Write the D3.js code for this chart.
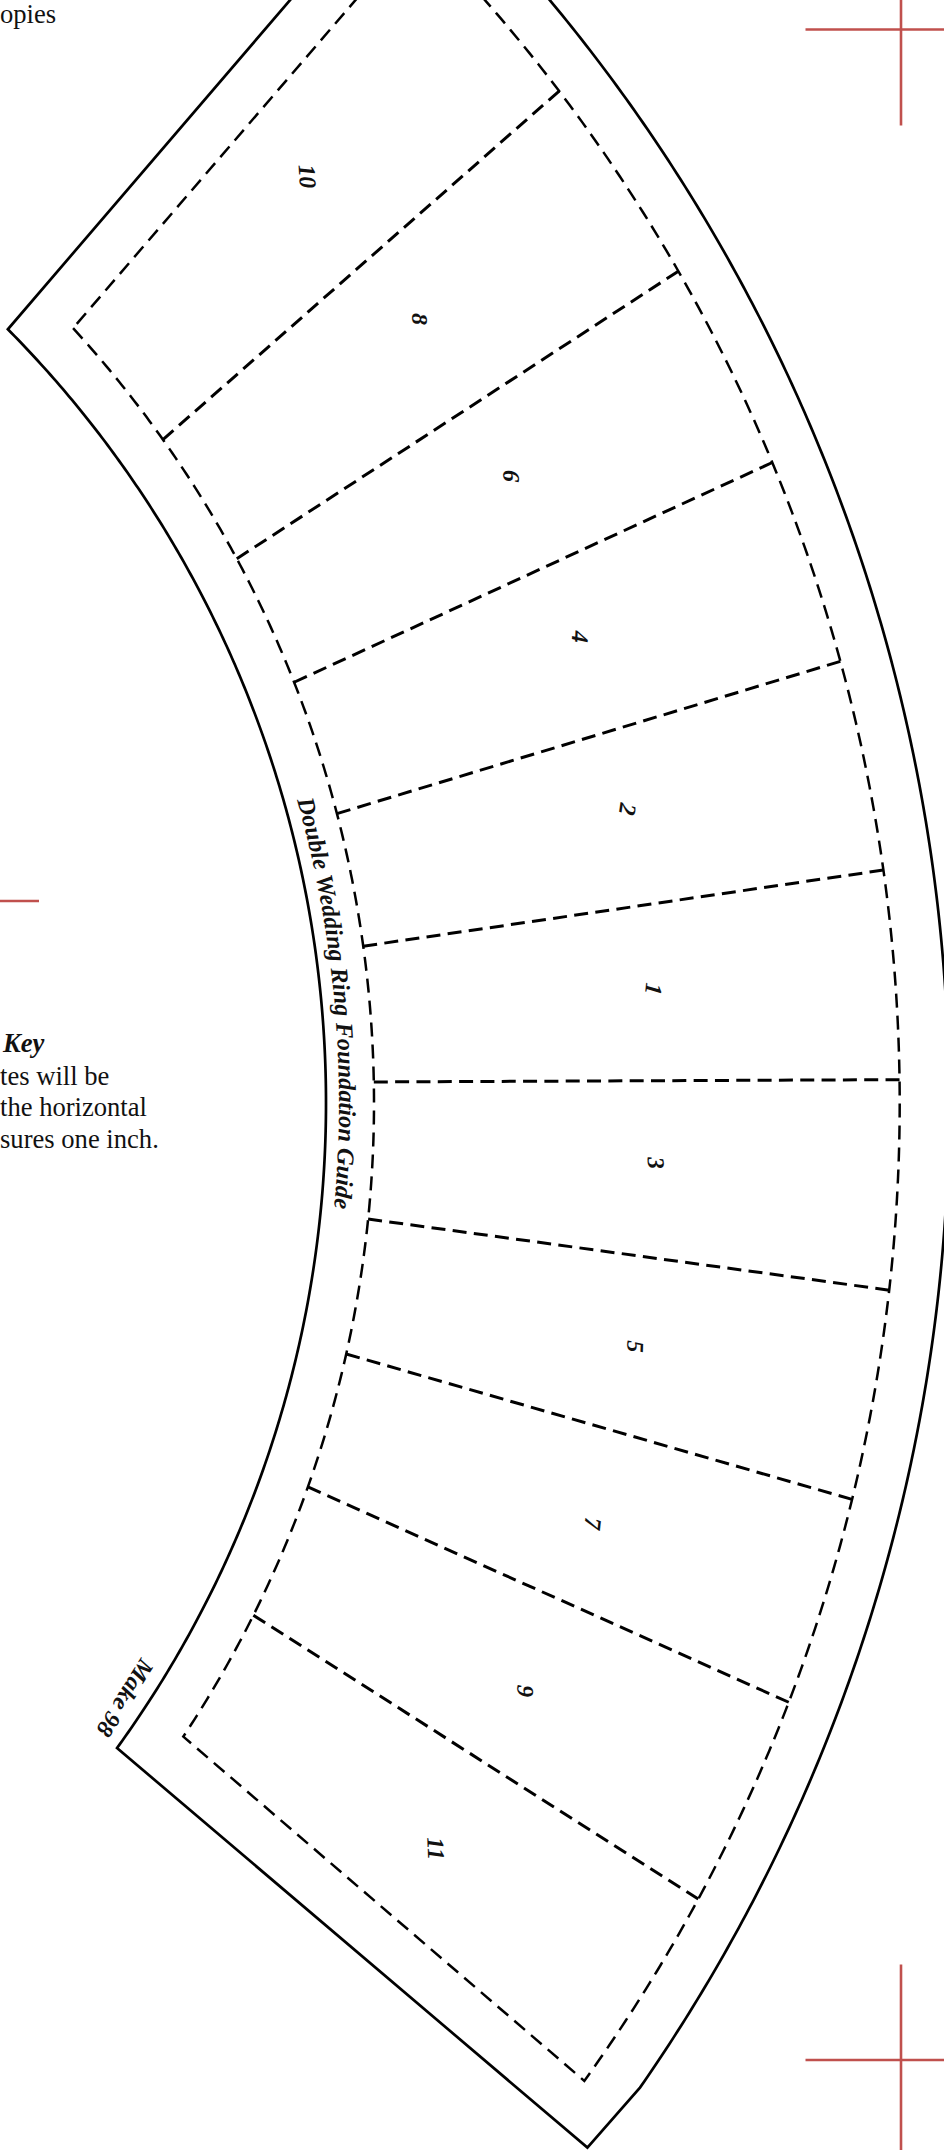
<!DOCTYPE html>
<html><head><meta charset="utf-8">
<script src="https://cdn.jsdelivr.net/npm/d3@7/dist/d3.min.js"></script>
<style>html,body{margin:0;padding:0;background:#fff;overflow:hidden}svg{display:block}text{font-family:"Liberation Serif",serif;fill:#111}</style>
</head><body><div id="c"></div>
<script>
// Seam angles of the ring segments (degrees from the ring centre, clockwise from 3 o'clock)
const seamInnerAngles = [-35.3,-28.3,-21.5,-14.6,-7.85,-1.05,5.8,12.63,19.54,26.5];
const seamOuterAngles = [-37.2,-29.8,-22.5,-15.3,-8.0,-0.8,6.42,13.7,20.98,28.4];
// Segment labels
const segmentLabels = ["10","8","6","4","2","1","3","5","7","9","11"];
const labelAngles   = [-40.6,-33.3,-26.0,-19.0,-11.84,-4.56,2.4,9.8,17.1,24.35,31.65];
const labelRadii    = [1424,1428,1430,1432,1432,1432,1431,1430,1430,1426,1421];
const labelTurns    = [86,90,92,92,98,96,86,92,96,92,88];
// Ring radii and end angles
const sewnRadii = {inner:1148,outer:1673.7}, cutRadii = {inner:1100,outer:1723};
const sewnEnds = {innerStart:-42.45,innerEnd:33.5,outerStart:-44.6,outerEnd:35.75};
const cutEnds  = {innerStart:-44.7,innerEnd:35.9,outerStart:-46.4,outerEnd:34.85,tipAngle:37.5,tipRadius:1716};
const keyLines = ["tes will be","the horizontal","sures one inch."];

const W=944,H=2150,CX=-774,CY=1103;
const svg=d3.select("#c").append("svg").attr("width",W).attr("height",H);
const angle=d3.scaleLinear().domain([-90,270]).range([0,2*Math.PI]);
const radius=d3.scaleLinear().domain([0,2000]).range([0,2000]);
const radial=d3.lineRadial().angle(d=>angle(d[0])).radius(d=>radius(d[1]));
const arcPts=(a,b,r)=>{const n=Math.ceil(Math.abs(b-a)/0.25);return d3.range(n+1).map(i=>[a+(b-a)*i/n,r]);};
const px=(a,r)=>[radius(r)*Math.cos(a*Math.PI/180),radius(r)*Math.sin(a*Math.PI/180)];
const ring=svg.append("g").attr("transform",`translate(${CX},${CY})`);

// Cut line
ring.append("path").attr("fill","none").attr("stroke","#000").attr("stroke-width",2.7).attr("stroke-linejoin","miter")
 .attr("d",radial([...arcPts(cutEnds.innerStart,cutEnds.innerEnd,cutRadii.inner),[cutEnds.tipAngle,cutEnds.tipRadius],
   ...arcPts(cutEnds.outerEnd,cutEnds.outerStart,cutRadii.outer)])+"Z");
// Sewing line
ring.append("path").attr("fill","none").attr("stroke","#000").attr("stroke-width",2.5).attr("stroke-dasharray","14 8")
 .attr("d",radial([...arcPts(sewnEnds.innerStart,sewnEnds.innerEnd,sewnRadii.inner),...arcPts(sewnEnds.outerEnd,sewnEnds.outerStart,sewnRadii.outer)])+"Z");
// Seams: the dash gap is fitted so each seam ends on a dash at both rings
const seamDash=(d,i)=>{const a=px(d,sewnRadii.inner),b=px(seamOuterAngles[i],sewnRadii.outer);
  const L=Math.hypot(a[0]-b[0],a[1]-b[1]);const n=Math.round((L-14)/21);return `14 ${(L-14)/n-14}`;};
ring.selectAll("path.seam").data(seamInnerAngles).join("path").attr("class","seam").attr("fill","none")
 .attr("stroke","#000").attr("stroke-width",3).attr("stroke-dasharray",seamDash)
 .attr("d",(d,i)=>radial([[d,sewnRadii.inner],[seamOuterAngles[i],sewnRadii.outer]]));
// Labels
ring.selectAll("text.seg").data(segmentLabels).join("text").attr("class","seg")
 .attr("transform",(d,i)=>{const p=px(labelAngles[i],labelRadii[i]);return `translate(${p[0]},${p[1]}) rotate(${labelTurns[i]})`;})
 .attr("text-anchor","middle").attr("dy","0.33em").attr("font-size",24).attr("font-style","italic").attr("font-weight","bold").text(d=>d);
// Title along the arc
ring.append("path").attr("id","titleArc").attr("fill","none").attr("d",radial(arcPts(-15.8,8,1113)));
ring.append("text").attr("font-size",24.3).attr("font-weight","bold").attr("font-style","italic")
 .append("textPath").attr("href","#titleArc").text("Double Wedding Ring Foundation Guide");
const mp=px(33.5,1078);
ring.append("text").attr("transform",`translate(${mp[0]},${mp[1]}) rotate(122)`).attr("text-anchor","middle").attr("dy","0.33em")
 .attr("font-size",24).attr("font-weight","bold").attr("font-style","italic").text("Make 98");

// Crop marks
const red="#c0504d";
const crop=[[805.5,29.5,944,29.5],[901,0,901,125.5],[805.5,2060,944,2060],[901,1964.5,901,2150],[0,901,39,901]];
svg.selectAll("line.crop").data(crop).join("line").attr("class","crop").attr("stroke",red).attr("stroke-width",2.6)
 .attr("x1",d=>d[0]).attr("y1",d=>d[1]).attr("x2",d=>d[2]).attr("y2",d=>d[3]);
// Left text
svg.append("text").attr("x",0).attr("y",23).attr("font-size",26.6).text("opies");
svg.append("text").attr("x",3).attr("y",1052).attr("font-size",26.6).attr("font-weight","bold").attr("font-style","italic").text("Key");
svg.selectAll("text.key").data(keyLines).join("text").attr("class","key").attr("x",0).attr("y",(d,i)=>1085+i*31.3).attr("font-size",26.6).text(d=>d);
</script></body></html>
